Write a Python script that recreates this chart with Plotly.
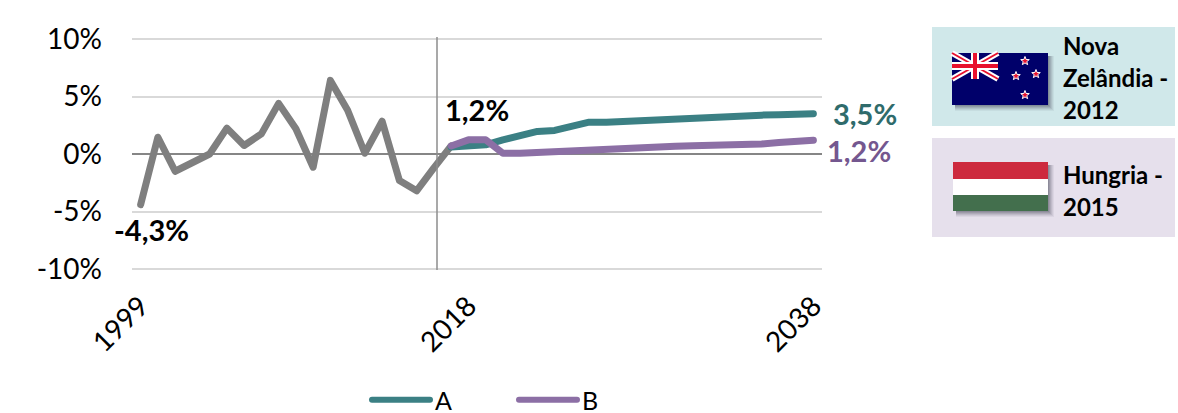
import math
import plotly.graph_objects as go

FONT = "Lato"
W, H = 1178, 413
L, R, T, B = 132, 822, 36, 272
Y_LIMIT = 10.26

year_labels = ["1999", "2018", "2038"]
label_index = [0, 19, 39]
pct_ticks = [-10, -5, 0, 5, 10]
pct_labels = ["-10%", "-5%", "0%", "5%", "10%"]

hist_x = list(range(0, 19))
hist = [-4.4, 1.46, -1.5, -0.7, 0.0, 2.25, 0.74, 1.75, 4.4, 2.2, -1.15, 6.4, 3.8, 0.07, 2.85, -2.3, -3.2, -1.2, 0.7]
proj_x = list(range(18, 40))
series_a = [0.6, 0.68, 0.8, 1.23, 1.6, 1.96, 2.05, 2.42, 2.77, 2.77, 2.85, 2.97, 3.03, 3.05, 3.2, 3.26, 3.3, 3.35, 3.38, 3.42, 3.46, 3.5]
series_b = [0.7, 1.23, 1.23, 0.07, 0.07, 0.15, 0.22, 0.3, 0.38, 0.5, 0.52, 0.6, 0.62, 0.68, 0.72, 0.72, 0.72, 0.87, 0.87, 1.0, 1.03, 1.2]

GREY, TEAL, PURPLE = "#7F7F7F", "#3B8084", "#8C6FA5"


def px(x):
    return (x - L) / (R - L)


def py(y):
    return 1 - (y - T) / (B - T)


def rect(x0, y0, x1, y1, color, opacity=1.0):
    return dict(type="rect", xref="paper", yref="paper", x0=px(x0), x1=px(x1), y0=py(y1), y1=py(y0),
                fillcolor=color, opacity=opacity, line=dict(width=0), layer="above")


def poly(points, color, line_color=None, line_width=0):
    d = "M" + " L".join(f"{px(x):.5f},{py(y):.5f}" for x, y in points) + " Z"
    return dict(type="path", xref="paper", yref="paper", path=d, fillcolor=color,
                line=dict(width=line_width, color=line_color or color), layer="above")


def bar(x0, y0, x1, y1, w):
    dx, dy = x1 - x0, y1 - y0
    n = (dx * dx + dy * dy) ** 0.5
    ox, oy = -dy / n * w / 2, dx / n * w / 2
    return [(x0 + ox, y0 + oy), (x1 + ox, y1 + oy), (x1 - ox, y1 - oy), (x0 - ox, y0 - oy)]


def star(cx, cy, r):
    pts = []
    for i in range(10):
        a = -math.pi / 2 + i * math.pi / 5
        rr = r if i % 2 == 0 else r * 0.42
        pts.append((cx + rr * math.cos(a), cy + rr * math.sin(a)))
    return pts


def shadow(x0, y0, x1, y1):
    out = []
    for i, op in [(6, 0.06), (5, 0.08), (4, 0.1), (3, 0.12), (2, 0.14), (1, 0.16)]:
        out.append(rect(x0 + 3, y0 + 3, x1 + i, y1 + i, "#3A3A4A", op))
    return out


shapes = [
    dict(type="line", xref="paper", yref="paper", x0=px(437), x1=px(437), y0=py(37), y1=py(270),
         line=dict(color="#8C8C8C", width=1.5), layer="above"),
    rect(932, 27, 1175, 126, "#D0E8EA"),
    rect(932, 138, 1175, 237, "#E6E0EC"),
]
shapes += shadow(952, 53, 1048, 105)
shapes.append(rect(952, 53, 1048, 105, "#00006A"))
cl, ct, cr, cb = 952, 53, 998, 79
shapes += [
    poly(bar(cl, ct, cr, cb, 6), "#FFFFFF"),
    poly(bar(cl, cb, cr, ct, 6), "#FFFFFF"),
    poly(bar(cl, ct, cr, cb, 2), "#E8112D"),
    poly(bar(cl, cb, cr, ct, 2), "#E8112D"),
    rect(cl, 62, cr, 70, "#FFFFFF"),
    rect(971, ct, 979, cb, "#FFFFFF"),
    rect(cl, 64, cr, 68, "#E8112D"),
    rect(973, ct, 977, cb, "#E8112D"),
]
for cx, cy in [(1025, 61), (1016, 76), (1036, 74), (1025, 95)]:
    shapes.append(poly(star(cx, cy, 4.5), "#E8112D", "#FFFFFF", 1))
shapes += shadow(953, 162, 1048, 211)
shapes += [
    rect(953, 162, 1048, 179, "#CD2A3E"),
    rect(953, 179, 1048, 195, "#FFFFFF"),
    rect(953, 195, 1048, 211, "#436F4D"),
]

fig = go.Figure()
line_common = dict(width=7, shape="linear")
fig.add_trace(go.Scatter(x=hist_x, y=hist, mode="lines", line=dict(color=GREY, **line_common),
                         showlegend=False, hoverinfo="skip"))
fig.add_trace(go.Scatter(x=proj_x, y=series_a, mode="lines", name="A", line=dict(color=TEAL, **line_common)))
fig.add_trace(go.Scatter(x=proj_x, y=series_b, mode="lines", name="B", line=dict(color=PURPLE, **line_common)))


def data_note(text, x, y, color, xshift, yshift, anchor="center"):
    return dict(text=f"<b>{text}</b>", x=x, y=y, xref="x", yref="y", showarrow=False, xanchor=anchor,
                yanchor="middle", xshift=xshift, yshift=yshift, font=dict(family=FONT, size=29, color=color))


def paper_note(text, x, y):
    return dict(text=f"<b>{text}</b>", x=px(x), y=py(y), xref="paper", yref="paper", showarrow=False,
                xanchor="left", yanchor="middle", font=dict(family=FONT, size=24, color="#000000"))


annotations = [
    data_note("-4,3%", hist_x[0], hist[0], "#000000", 11, -25),
    data_note("1,2%", hist_x[-1], hist[-1], "#000000", 26, 36),
    data_note("3,5%", proj_x[-1], series_a[-1], "#2F6B6B", 52, 0),
    data_note("1,2%", proj_x[-1], series_b[-1], "#74578F", 46, -10),
    paper_note("Nova", 1061, 45),
    paper_note("Zelândia -", 1061, 77),
    paper_note("2012", 1061, 109),
    paper_note("Hungria -", 1061, 174),
    paper_note("2015", 1061, 206),
]

fig.update_layout(
    width=W, height=H, autosize=False,
    margin=dict(l=L, r=W - R, t=T, b=H - B, pad=0),
    paper_bgcolor="#FFFFFF", plot_bgcolor="#FFFFFF",
    font=dict(family=FONT, size=26, color="#000000"),
    showlegend=True,
    legend=dict(orientation="h", xref="container", yref="container", x=367 / W, y=1 - 400 / H,
                xanchor="left", yanchor="middle",
                font=dict(family=FONT, size=25, color="#000000"), itemwidth=58,
                entrywidth=74, entrywidthmode="pixels",
                bgcolor="rgba(0,0,0,0)", tracegroupgap=0),
    shapes=shapes, annotations=annotations,
    xaxis=dict(range=[-0.5, 39.5], tickmode="array", tickvals=label_index, ticktext=year_labels,
               tickangle=-45, showgrid=False, zeroline=False, showline=False, ticks="",
               ticklabelstandoff=11,
               tickfont=dict(family=FONT, size=28, color="#000000")),
    yaxis=dict(range=[-Y_LIMIT, Y_LIMIT], tickmode="array", tickvals=pct_ticks, ticktext=pct_labels,
               showgrid=True, gridcolor="#D9D9D9", gridwidth=2, zeroline=True, zerolinecolor="#868686",
               zerolinewidth=2, showline=False, ticks="", ticklen=0, ticklabelstandoff=29,
               tickfont=dict(family=FONT, size=28, color="#000000")),
)

post = """
document.body.style.margin='0';
function roundLines(){
  document.querySelectorAll('.js-line, .legendlines path').forEach(function(p){
    p.style.strokeLinecap='round'; p.style.strokeLinejoin='round';
  });
  document.querySelectorAll('.legendlines path').forEach(function(p){ p.style.strokeWidth='6px'; });
}
roundLines(); setTimeout(roundLines, 0); setTimeout(roundLines, 100); setTimeout(roundLines, 400);
"""
fig.write_html("out.html", post_script=post, config={"displayModeBar": False})
